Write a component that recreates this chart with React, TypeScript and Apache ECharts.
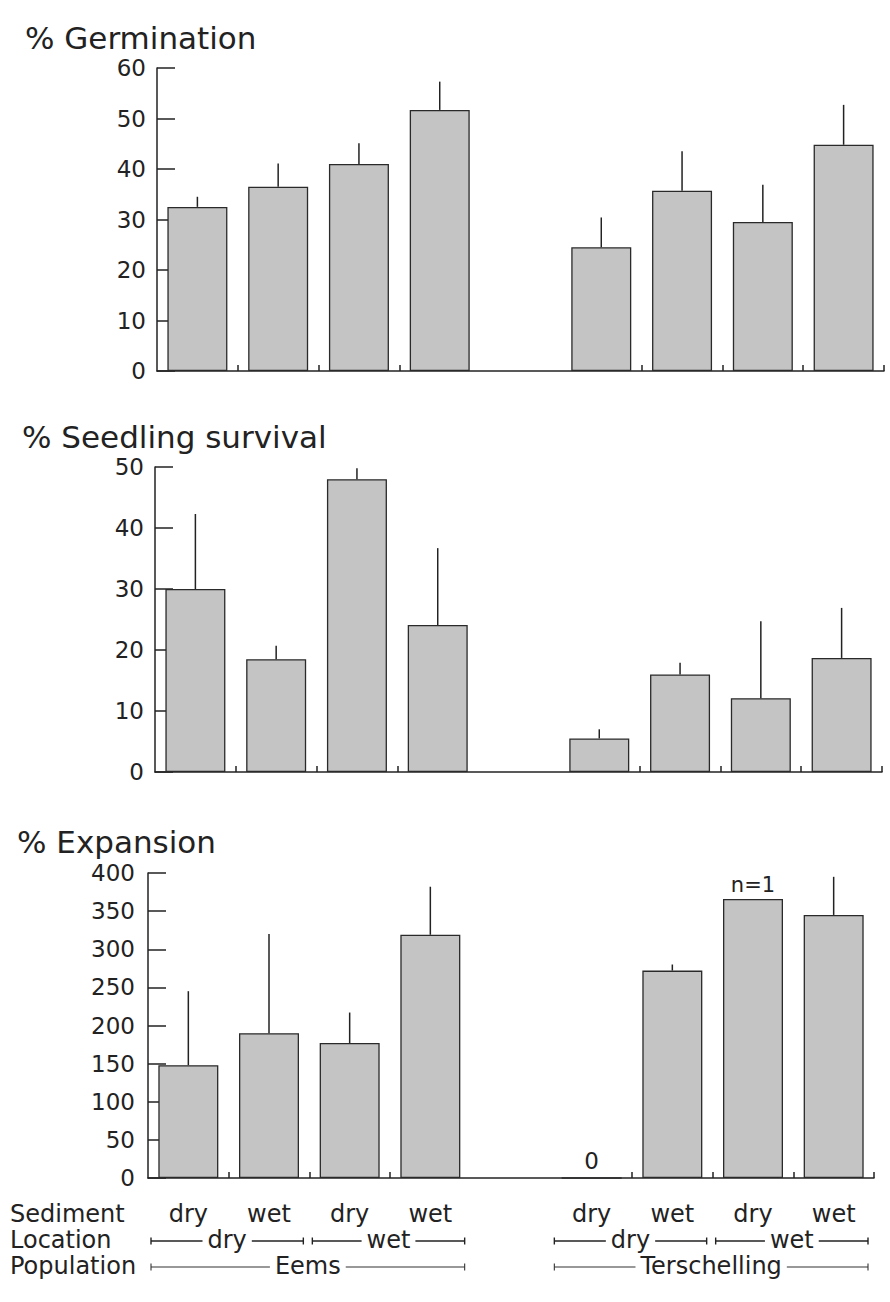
import React, { useEffect, useRef } from "react";
import * as echarts from "echarts";

// ---------- data ----------
const categories = [
  "Eems dry/dry", "Eems dry/wet", "Eems wet/dry", "Eems wet/wet", "",
  "Terschelling dry/dry", "Terschelling dry/wet", "Terschelling wet/dry", "Terschelling wet/wet",
];
const sedimentLabels = ["dry", "wet", "dry", "wet", null, "dry", "wet", "dry", "wet"];
const tickSlots = [1, 2, 3, 6, 7, 8];

const germination = [32.5, 36.5, 41.0, 51.7, null, 24.5, 35.7, 29.5, 44.8];
const germinationSE = [2.0, 4.6, 4.1, 5.6, null, 5.9, 7.8, 7.4, 7.9];

const survival = [30.0, 18.5, 48.0, 24.1, null, 5.5, 16.0, 12.1, 18.7];
const survivalSE = [12.3, 2.2, 1.8, 12.6, null, 1.5, 1.9, 12.6, 8.2];

const expansion = [148, 190, 177, 319, null, 0, 272, 366, 345];
const expansionSE = [97, 130, 40, 63, null, null, 8, null, 50];
const expansionNotes = [null, null, null, null, null, "0", null, "n=1", null];

const panelTitles = ["% Germination", "% Seedling survival", "% Expansion"];
const yMax = [60, 50, 400];
const yStep = [10, 10, 50];

const locationGroups = [
  { label: "dry", from: 0, to: 1 },
  { label: "wet", from: 2, to: 3 },
  { label: "dry", from: 5, to: 6 },
  { label: "wet", from: 7, to: 8 },
];
const populationGroups = [
  { label: "Eems", from: 0, to: 3 },
  { label: "Terschelling", from: 5, to: 8 },
];
const rowLabels = ["Sediment", "Location", "Population"];

// ---------- layout ----------
const FONT = "DejaVu Sans";
const INK = "#222";
const grids = [
  { left: 157, top: 68, width: 727, height: 303 },
  { left: 155, top: 467, width: 727, height: 305 },
  { left: 148, top: 873, width: 726, height: 305 },
];
const titleTops = [22, 421, 826];
const titleLefts = [25, 22, 17];
const rowBaselines = [1222, 1248, 1274];

function measure(text: string, size: number) {
  const c = document.createElement("canvas").getContext("2d");
  if (!c) return text.length * size * 0.6;
  c.font = `${size}px "${FONT}"`;
  return c.measureText(text).width;
}

function buildOption() {
  const valuesList = [germination, survival, expansion];
  const seList = [germinationSE, survivalSE, expansionSE];
  const notesList = [null, null, expansionNotes];

  const series: any[] = [];
  valuesList.forEach((vals, k) => {
    const notes = notesList[k];
    series.push({
      type: "bar",
      xAxisIndex: k,
      yAxisIndex: k,
      barWidth: 60,
      itemStyle: { color: "#c4c4c4", borderColor: "#2a2a2a", borderWidth: 1.3 },
      data: vals.map((v, i) => {
        if (v == null) return "-";
        const note = notes ? notes[i] : null;
        if (note) {
          return {
            value: v,
            label: {
              show: true,
              position: "top",
              distance: note === "0" ? 5 : 3,
              formatter: note,
              fontFamily: FONT,
              fontSize: note === "0" ? 23 : 21,
              color: INK,
            },
          };
        }
        return v;
      }),
      z: 2,
    });
    const se = seList[k];
    const errData: any[] = [];
    vals.forEach((v, i) => {
      if (v != null && se[i] != null && (se[i] as number) > 0) errData.push([i, v, v + (se[i] as number)]);
    });
    series.push({
      type: "custom",
      xAxisIndex: k,
      yAxisIndex: k,
      data: errData,
      encode: { x: 0, y: [1, 2] },
      z: 3,
      renderItem: (params: any, api: any) => {
        const x = api.value(0);
        const p1 = api.coord([x, api.value(1)]);
        const p2 = api.coord([x, api.value(2)]);
        return {
          type: "line",
          shape: { x1: p1[0], y1: p1[1], x2: p2[0], y2: p2[1] },
          style: { stroke: INK, lineWidth: 1.5 },
        };
      },
    });
  });

  // annotation rows under bottom panel
  const g = grids[2];
  const slot = g.width / categories.length;
  const center = (i: number) => g.left + (i + 0.5) * slot;
  const graphic: any[] = [];
  const fs = 24;
  const mid = (b: number) => b - 0.346 * fs;
  rowLabels.forEach((t, r) => {
    graphic.push({
      type: "text",
      x: 10,
      y: mid(rowBaselines[r]),
      style: { text: t, font: `${fs}px "${FONT}"`, fill: INK, align: "left", verticalAlign: "middle" },
    });
  });
  sedimentLabels.forEach((t, i) => {
    if (!t) return;
    graphic.push({
      type: "text",
      x: center(i),
      y: mid(rowBaselines[0]),
      style: { text: t, font: `${fs}px "${FONT}"`, fill: INK, align: "center", verticalAlign: "middle" },
    });
  });
  const bracket = (groups: any[], row: number, lw: number, color: string, inset0: number, inset1: number) => {
    const yLine = rowBaselines[row] - 7;
    const yText = mid(rowBaselines[row]);
    groups.forEach((grp) => {
      const x0 = g.left + grp.from * slot + inset0;
      const x1 = g.left + (grp.to + 1) * slot - inset1;
      const cx = (x0 + x1) / 2;
      const w = measure(grp.label, fs);
      const gap = 5;
      graphic.push({
        type: "text",
        x: cx,
        y: yText,
        style: { text: grp.label, font: `${fs}px "${FONT}"`, fill: INK, align: "center", verticalAlign: "middle" },
      });
      const ls = { stroke: color, lineWidth: lw };
      graphic.push({ type: "line", shape: { x1: x0, y1: yLine, x2: cx - w / 2 - gap, y2: yLine }, style: ls });
      graphic.push({ type: "line", shape: { x1: cx + w / 2 + gap, y1: yLine, x2: x1, y2: yLine }, style: ls });
      graphic.push({ type: "line", shape: { x1: x0, y1: yLine - 3.5, x2: x0, y2: yLine + 3.5 }, style: ls });
      graphic.push({ type: "line", shape: { x1: x1, y1: yLine - 3.5, x2: x1, y2: yLine + 3.5 }, style: ls });
    });
  };
  bracket(locationGroups, 1, 1.4, "#222", 3, 6);
  bracket(populationGroups, 2, 1.1, "#333", 3, 6);

  return {
    animation: false,
    backgroundColor: "#ffffff",
    title: panelTitles.map((t, k) => ({
      text: t,
      left: titleLefts[k],
      top: titleTops[k],
      padding: 0,
      textStyle: { fontFamily: FONT, fontSize: 31, fontWeight: "normal", color: INK },
    })),
    grid: grids.map((gr) => ({ ...gr, containLabel: false, outerBoundsMode: "none" })),
    xAxis: grids.map((_, k) => ({
      type: "category",
      gridIndex: k,
      data: categories,
      boundaryGap: true,
      axisLine: { show: true, onZero: false, lineStyle: { color: INK, width: 1.5 } },
      axisTick: {
        show: true,
        inside: true,
        length: 6,
        interval: (i: number) => tickSlots.includes(i),
        lineStyle: { color: INK, width: 1.5 },
      },
      axisLabel: { show: false },
      splitLine: { show: false },
    })),
    yAxis: grids.map((_, k) => ({
      type: "value",
      gridIndex: k,
      min: 0,
      max: yMax[k],
      interval: yStep[k],
      axisLine: { show: true, lineStyle: { color: INK, width: 1.5 } },
      axisTick: { show: true, inside: true, length: 18, lineStyle: { color: INK, width: 1.5 } },
      axisLabel: { margin: k === 2 ? 13 : 11, fontFamily: FONT, fontSize: 23, color: INK },
      splitLine: { show: false },
    })),
    graphic,
    series,
  };
}

export default function App() {
  const ref = useRef<HTMLDivElement>(null);
  useEffect(() => {
    document.body.style.margin = "0";
    if (!ref.current) return;
    const chart = echarts.init(ref.current, null, { renderer: "svg" });
    chart.setOption(buildOption() as any);
    return () => chart.dispose();
  }, []);
  return <div ref={ref} style={{ width: 890, height: 1302, background: "#fff" }} />;
}
